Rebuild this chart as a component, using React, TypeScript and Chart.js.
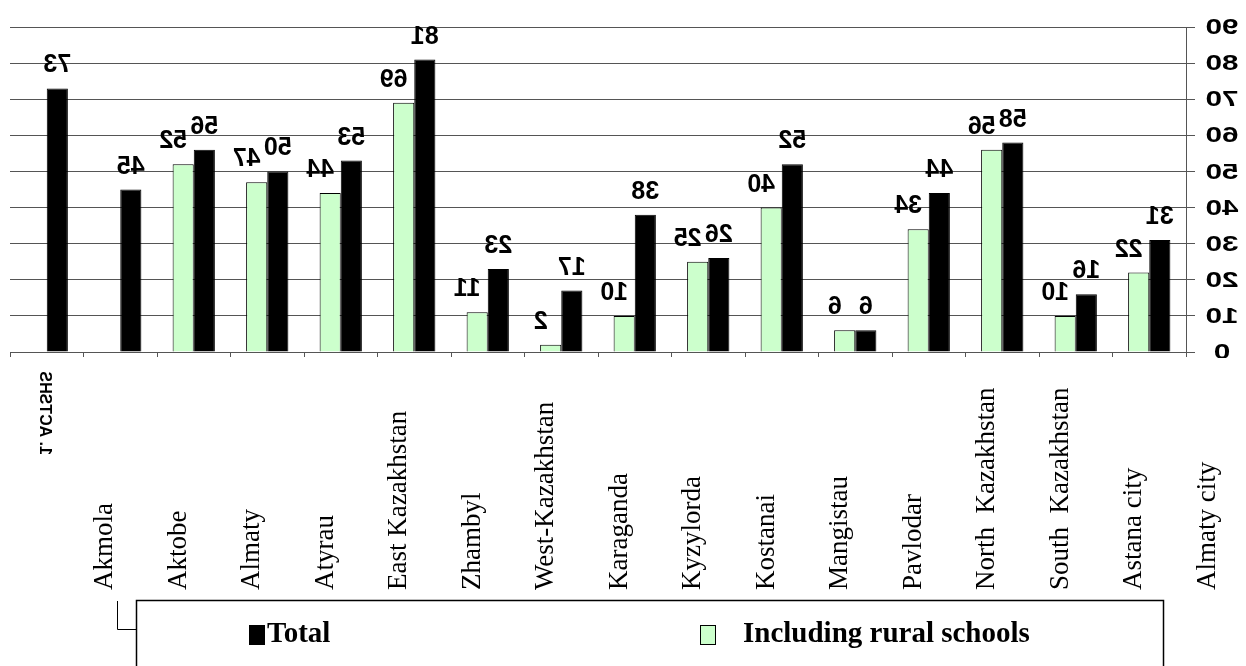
import React, { useEffect, useRef } from "react";
import { Chart, registerables } from "chart.js";

Chart.register(...registerables);

// ---- data ----
const regionLabels = [
  "1. ACTSHS",
  "Akmola",
  "Aktobe",
  "Almaty",
  "Atyrau",
  "East Kazakhstan",
  "Zhambyl",
  "West-Kazakhstan",
  "Karaganda",
  "Kyzylorda",
  "Kostanai",
  "Mangistau",
  "Pavlodar",
  "North  Kazakhstan",
  "South  Kazakhstan",
  "Astana city",
  "Almaty city",
];
const totalValues = [73, 45, 56, 50, 53, 81, 23, 17, 38, 26, 52, 6, 44, 58, 16, 31];
const ruralValues: (number | null)[] = [null, null, 52, 47, 44, 69, 11, 2, 10, 25, 40, 6, 34, 56, 10, 22];
const yTickValues = [0, 10, 20, 30, 40, 50, 60, 70, 80, 90];
const seriesNames = ["Including rural schools", "Total"];
const seriesColors = ["#CCFFCC", "#000000"];

const W = 1246;
const H = 666;

function mirroredText(ctx: CanvasRenderingContext2D, text: string, x: number, y: number, sx = 1) {
  ctx.save();
  ctx.translate(x, y);
  ctx.scale(-sx, 1);
  ctx.fillText(text, 0, 0);
  ctx.restore();
}

const overlayPlugin = {
  id: "overlay",
  afterDraw(chart: any) {
    const ctx: CanvasRenderingContext2D = chart.ctx;
    const xs = chart.scales.x;
    const ys = chart.scales.y;
    const area = chart.chartArea;
    ctx.save();
    ctx.fillStyle = "#000";

    // value labels (mirrored)
    ctx.font = 'bold 25px "Liberation Sans", Arial, sans-serif';
    ctx.textAlign = "center";
    ctx.textBaseline = "alphabetic";
    chart.data.datasets.forEach((ds: any, di: number) => {
      const meta = chart.getDatasetMeta(di);
      meta.data.forEach((bar: any, i: number) => {
        const v = ds.data[i];
        if (v == null) return;
        const p = bar.getProps(["x", "y"], true);
        const cx = di === 0 ? p.x - 10 : p.x;
        mirroredText(ctx, String(v), cx, p.y - 16);
      });
    });

    // y tick labels (mirrored, right side), clipped at bottom
    ctx.save();
    ctx.beginPath();
    ctx.rect(0, 0, W, area.bottom + 6);
    ctx.clip();
    ctx.font = 'bold 22px "Liberation Sans", Arial, sans-serif';
    ctx.textAlign = "center";
    ctx.textBaseline = "middle";
    yTickValues.forEach((v) => {
      const y = ys.getPixelForValue(v);
      mirroredText(ctx, String(v), area.right + 36, y + 1, 1.35);
    });
    ctx.restore();

    // category labels
    regionLabels.forEach((lab, i) => {
      const x = xs.getPixelForValue(i);
      ctx.save();
      if (i === 0) {
        ctx.font = 'bold 16px "Liberation Sans", Arial, sans-serif';
        ctx.translate(x - 2, 455);
        ctx.scale(-1, 1);
        ctx.rotate(-Math.PI / 2);
        ctx.textAlign = "left";
        ctx.textBaseline = "middle";
        ctx.fillText(lab, 0, 0);
      } else {
        ctx.font = '27px "Liberation Serif", "Times New Roman", serif';
        ctx.translate(x - 8, 590);
        ctx.rotate(-Math.PI / 2);
        ctx.textAlign = "left";
        ctx.textBaseline = "alphabetic";
        ctx.fillText(lab, 0, 0);
      }
      ctx.restore();
    });

    // legend box
    ctx.strokeStyle = "#000";
    ctx.lineWidth = 1.5;
    ctx.strokeRect(136.5, 600.5, 1027, 120);
    ctx.lineWidth = 1;
    ctx.beginPath();
    ctx.moveTo(117.5, 601);
    ctx.lineTo(117.5, 629.5);
    ctx.lineTo(136, 629.5);
    ctx.stroke();

    const items = [
      { ds: 1, sx: 249, tx: 267 },
      { ds: 0, sx: 700, tx: 743 },
    ];
    ctx.font = 'bold 29px "Liberation Serif", "Times New Roman", serif';
    ctx.textAlign = "left";
    ctx.textBaseline = "alphabetic";
    items.forEach((it) => {
      const ds = chart.data.datasets[it.ds];
      ctx.fillStyle = ds.backgroundColor;
      ctx.fillRect(it.sx, 625, 15, 19);
      ctx.strokeStyle = "#000";
      ctx.lineWidth = 1;
      ctx.strokeRect(it.sx + 0.5, 625.5, 15, 19);
      ctx.fillStyle = "#000";
      ctx.fillText(ds.label, it.tx, 642);
    });

    ctx.restore();
  },
};

export default function App() {
  const canvasRef = useRef<HTMLCanvasElement | null>(null);

  useEffect(() => {
    const canvas = canvasRef.current;
    if (!canvas) return;
    const chart = new Chart(canvas, {
      type: "bar",
      data: {
        labels: regionLabels.slice(0, totalValues.length),
        datasets: [
          {
            label: seriesNames[0],
            data: ruralValues,
            backgroundColor: seriesColors[0],
            borderColor: "#000",
            borderWidth: 1,
            categoryPercentage: 0.575,
            barPercentage: 1.0,
          },
          {
            label: seriesNames[1],
            data: totalValues,
            backgroundColor: seriesColors[1],
            borderColor: "#000",
            borderWidth: 1,
            categoryPercentage: 0.575,
            barPercentage: 1.0,
          },
        ],
      },
      options: {
        animation: false,
        responsive: false,
        devicePixelRatio: 1,
        layout: { padding: { left: 10, top: 27, right: 51, bottom: 309 } },
        plugins: {
          legend: { display: false },
          tooltip: { enabled: false },
        },
        scales: {
          x: {
            offset: true,
            ticks: { display: false },
            grid: {
              offset: true,
              drawOnChartArea: false,
              drawTicks: true,
              tickLength: 5,
              color: "#555",
            },
            border: { display: true, color: "#555", width: 1 },
          },
          y: {
            position: "right",
            min: 0,
            max: 90,
            ticks: { display: false, stepSize: 10 },
            grid: {
              color: "#555",
              lineWidth: 1,
              drawTicks: true,
              tickLength: 9,
            },
            border: { display: true, color: "#555", width: 1 },
          },
        },
      },
      plugins: [overlayPlugin],
    });
    return () => chart.destroy();
  }, []);

  return (
    <div style={{ position: "fixed", left: 0, top: 0, width: W, height: H, background: "#fff" }}>
      <canvas ref={canvasRef} width={W} height={H} style={{ display: "block", width: W, height: H }} />
    </div>
  );
}
